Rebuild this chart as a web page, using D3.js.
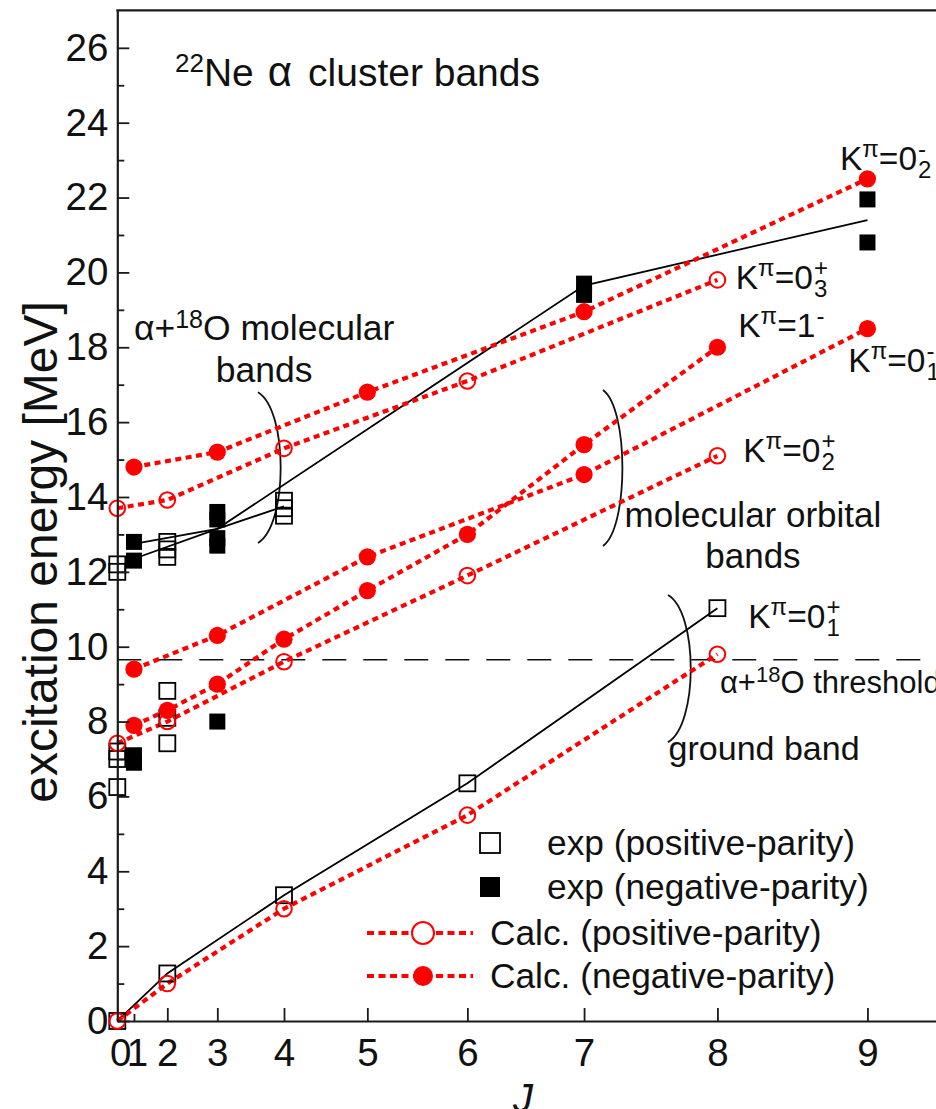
<!DOCTYPE html>
<html><head><meta charset="utf-8">
<script src="https://cdn.jsdelivr.net/npm/d3@7"></script>
<style>
html,body{margin:0;padding:0;background:#fff;}
svg{display:block;font-family:"Liberation Sans",Arial,sans-serif;}
</style></head>
<body><svg id="c" width="936" height="1109"></svg>
<script>
// ---------- data ----------
const jTicks = [0,1,2,3,4,5,6,7,8,9];
const jTickLabels = ["0","1","2","3","4","5","6","7","8","9"];
const yMajorTicks = [0,2,4,6,8,10,12,14,16,18,20,22,24,26];
const yMinorTicks = [1,3,5,7,9,11,13,15,17,19,21,23,25];

// experimental, positive parity (open squares) : [J, E]
const expPos = [[0,0],[0,6.25],[0,7.0],[0,7.2],[0,12.0],[0,12.2],
  [2,1.27],[2,7.42],[2,8.1],[2,8.82],[2,12.4],[2,12.6],[2,12.8],
  [4,3.36],[4,13.5],[4,13.7],[4,13.9],[6,6.35],[8,11.03]];
// experimental, negative parity (filled squares)
const expNeg = [[1,6.9],[1,7.1],[1,12.3],[1,12.8],
  [3,8.0],[3,12.7],[3,12.9],[3,13.4],[3,13.6],
  [7,19.4],[7,19.7],[9,20.8],[9,21.95]];
// experimental band lines (solid black)
const expGroundJ = [0,2,4,6,8], expGroundE = [0,1.27,3.36,6.35,11.03];
const expLineAJ = [1,3,7,9], expLineAE = [12.75,13.15,19.65,21.4];
const expLineBJ = [1,3,4], expLineBE = [12.35,13.15,13.75];

// calculated bands
const calcG_J  = [0,2,4,6,8],  calcG_E  = [0,1.0,3.0,5.5,9.8];          // K=0_1^+
const calc02p_J= [0,2,4,6,8],  calc02p_E= [7.42,8.0,9.6,11.9,15.1];     // K=0_2^+
const calc03p_J= [0,2,4,6,8],  calc03p_E= [13.7,13.92,15.3,17.1,19.8];  // K=0_3^+
const calc01m_J= [1,3,5,7,9],  calc01m_E= [9.4,10.3,12.4,14.6,18.5];    // K=0_1^-
const calc02m_J= [1,3,5,7,9],  calc02m_E= [14.8,15.2,16.8,18.95,22.5];  // K=0_2^-
const calc1m_J = [1,2,3,4,5,6,7,8], calc1m_E = [7.9,8.3,9.0,10.2,11.5,13.0,15.4,18.0]; // K=1^-

const threshold = 9.65;

// ---------- layout ----------
const W = 936, H = 1109;
const jj = J => J*(J+1);
const xs = d3.scaleLinear().domain([0,100]).range([117.3, 950.8]);
const ys = d3.scaleLinear().domain([0,27]).range([1021, 10.4]);
const X = J => xs(jj(J));
const RED = "#ff0000";

const svg = d3.select("#c");
svg.append("rect").attr("width",W).attr("height",H).attr("fill","#fff");

// threshold dashed line
svg.append("line").attr("x1",xs(0)).attr("x2",W).attr("y1",ys(threshold)).attr("y2",ys(threshold))
  .attr("stroke","#111").attr("stroke-width",1.6).attr("stroke-dasharray","24,17");

// brackets (annotation, in data units of J(J+1), E)
const brackets = [
  {x0:16.88, xm:19.6, e0:16.8, e1:12.77},
  {x0:58.27, xm:60.6, e0:16.86, e1:12.69},
  {x0:66.07, xm:68.8, e0:11.38, e1:7.45}
];
brackets.forEach(b=>{
  const x0 = xs(b.x0), xm = xs(b.xm), y0 = ys(b.e0), y1 = ys(b.e1);
  const xc = x0 + (xm-x0)/0.75, h = y1-y0;
  svg.append("path").attr("d",`M${x0},${y0} C${xc},${y0+0.12*h} ${xc},${y1-0.12*h} ${x0},${y1}`)
    .attr("fill","none").attr("stroke","#111").attr("stroke-width",1.8);
});

// black experimental lines
const lineGen = d3.line().x(d=>X(d[0])).y(d=>ys(d[1]));
const zip = (a,b)=>a.map((v,i)=>[v,b[i]]);
[[expGroundJ,expGroundE],[expLineAJ,expLineAE],[expLineBJ,expLineBE]].forEach(([a,b])=>{
  svg.append("path").attr("d",lineGen(zip(a,b))).attr("fill","none")
    .attr("stroke","#000").attr("stroke-width",1.8);
});

// red dotted calculated lines
const calcPos = [[calcG_J,calcG_E],[calc02p_J,calc02p_E],[calc03p_J,calc03p_E]];
const calcNeg = [[calc01m_J,calc01m_E],[calc02m_J,calc02m_E],[calc1m_J,calc1m_E]];
[...calcPos,...calcNeg].forEach(([a,b])=>{
  svg.append("path").attr("d",lineGen(zip(a,b))).attr("fill","none")
    .attr("stroke",RED).attr("stroke-width",4.2).attr("stroke-dasharray","6,4.5");
});

// squares
const SQ = 16;
svg.append("g").selectAll("rect").data(expPos).join("rect")
  .attr("x",d=>X(d[0])-SQ/2).attr("y",d=>ys(d[1])-SQ/2).attr("width",SQ).attr("height",SQ)
  .attr("fill","none").attr("stroke","#000").attr("stroke-width",1.8);
svg.append("g").selectAll("rect").data(expNeg).join("rect")
  .attr("x",d=>X(d[0])-SQ/2).attr("y",d=>ys(d[1])-SQ/2).attr("width",SQ).attr("height",SQ)
  .attr("fill","#000");

// circles
calcPos.forEach(([a,b])=>{
  svg.append("g").selectAll("circle").data(zip(a,b)).join("circle")
    .attr("cx",d=>X(d[0])).attr("cy",d=>ys(d[1])).attr("r",7.8)
    .attr("fill","none").attr("stroke",RED).attr("stroke-width",2);
});
calcNeg.forEach(([a,b])=>{
  svg.append("g").selectAll("circle").data(zip(a,b)).join("circle")
    .attr("cx",d=>X(d[0])).attr("cy",d=>ys(d[1])).attr("r",8.6).attr("fill",RED);
});

// ---------- axes ----------
const axColor = "#1a1a1a";
const gy = svg.append("g").attr("transform",`translate(${xs(0)},0)`)
  .call(d3.axisLeft(ys).tickValues(yMajorTicks).tickSize(-12).tickSizeOuter(0).tickPadding(9).tickFormat(d3.format("d")));
const gy2 = svg.append("g").attr("transform",`translate(${xs(0)},0)`)
  .call(d3.axisLeft(ys).tickValues(yMinorTicks).tickSize(-7).tickSizeOuter(0).tickFormat(""));
const gx = svg.append("g").attr("transform",`translate(0,${ys(0)})`)
  .call(d3.axisBottom(xs).tickValues(jTicks.map(jj)).tickSize(-13).tickSizeOuter(0).tickPadding(18)
    .tickFormat((d,i)=>jTickLabels[i]));
[gy,gy2,gx].forEach(g=>{
  g.select(".domain").attr("stroke",axColor).attr("stroke-width",2.2);
  g.selectAll(".tick line").attr("stroke",axColor).attr("stroke-width",1.8);
  g.selectAll(".tick text").attr("fill","#111").style("font-size","38.5px");
});
gy2.select(".domain").remove();
gx.selectAll(".tick").filter((d,i)=>i===1).select("line").attr("y2",-7);
gx.selectAll(".tick").filter((d,i)=>i===0).select("line").remove();
gx.selectAll(".tick").filter((d,i)=>i===0).select("text").attr("dx",3);
gx.selectAll(".tick").filter((d,i)=>i===1).select("text").attr("dx",3);
// top frame
svg.append("line").attr("x1",xs(0)-1).attr("x2",W).attr("y1",ys(27)).attr("y2",ys(27))
  .attr("stroke",axColor).attr("stroke-width",2.2);

// axis titles
svg.append("text").attr("transform",`translate(57,552) rotate(-90)`).attr("text-anchor","middle")
  .style("font-size","48px").attr("fill","#111").text("excitation energy [MeV]");
svg.append("text").attr("x",523).attr("y",1112).attr("text-anchor","middle")
  .style("font-size","40px").style("font-style","italic").attr("fill","#111").text("J");

// ---------- annotations ----------
function txt(x,y,size,anchor){ return svg.append("text").attr("x",x).attr("y",y)
  .attr("text-anchor",anchor||"start").style("font-size",size+"px").attr("fill","#111"); }

// title
const t = txt(xs(6.92), ys(24.98), 39);
t.append("tspan").text("22").style("font-size","26px").attr("dy","-14");
t.append("tspan").text("Ne").attr("dy","14");
t.append("tspan").text("\u03b1").attr("dx",14).style("font-size","42px");
t.append("tspan").text("cluster bands").attr("dx",16);

// alpha + 18O molecular bands
const a1 = txt(xs(17.62), ys(18.19), 35.5, "middle");
a1.append("tspan").text("\u03b1+");
a1.append("tspan").text("18").style("font-size","25px").attr("dy","-12");
a1.append("tspan").text("O molecular").attr("dy","12");
txt(xs(17.62), ys(17.07), 35.5, "middle").text("bands");

txt(xs(76.26), ys(13.2), 35, "middle").text("molecular orbital");
txt(xs(76.26), ys(12.1), 35, "middle").text("bands");
txt(xs(77.6), ys(6.97), 34, "middle").text("ground band");

const th = txt(xs(72.3), ys(8.76), 31);
th.append("tspan").text("\u03b1+");
th.append("tspan").text("18").style("font-size","22px").attr("dy","-11");
th.append("tspan").text("O threshold").attr("dy","11");

// K labels (sup and sub stacked in one text element)
const kLabels = [
  {x:86.7, e:22.74, main:"0", sup:"-", sub:"2"},
  {x:74.2, e:19.56, main:"0", sup:"+", sub:"3"},
  {x:74.5, e:18.27, main:"1", sup:"-", sub:""},
  {x:87.7, e:17.34, main:"0", sup:"-", sub:"1"},
  {x:75.1, e:14.93, main:"0", sup:"+", sub:"2"},
  {x:75.7, e:10.5,  main:"0", sup:"+", sub:"1"}
];
kLabels.forEach(k=>{
  const x0 = xs(k.x), y0 = ys(k.e);
  const tt = txt(x0, y0, 33.5);
  tt.append("tspan").text("K");
  tt.append("tspan").text("\u03c0").style("font-size","24px").attr("dy","-13");
  tt.append("tspan").text("="+k.main).attr("dy","13");
  const sp = tt.append("tspan").text(k.sup).style("font-size","24px").attr("dx",1).attr("dy","-13");
  if(k.sub){
    const sw = sp.node().getComputedTextLength();
    tt.append("tspan").text(k.sub).style("font-size","24px").attr("dx",-sw).attr("dy","21");
  }
});

// ---------- legend ----------
const LG = [
  {type:"sq", fill:false, y:843, label:"exp (positive-parity)"},
  {type:"sq", fill:true,  y:887, label:"exp (negative-parity)"},
  {type:"ci", fill:false, y:933, label:"Calc. (positive-parity)"},
  {type:"ci", fill:true,  y:976, label:"Calc. (negative-parity)"}
];
LG.forEach(l=>{
  if(l.type==="sq"){
    const s = 20;
    svg.append("rect").attr("x",490-s/2).attr("y",l.y-s/2).attr("width",s).attr("height",s)
      .attr("fill",l.fill?"#000":"none").attr("stroke","#000").attr("stroke-width",l.fill?0:1.8);
    txt(547, l.y+12, 35.3).text(l.label);
  } else {
    svg.append("line").attr("x1",367).attr("x2",473).attr("y1",l.y).attr("y2",l.y)
      .attr("stroke",RED).attr("stroke-width",4.2).attr("stroke-dasharray","7,4.5");
    svg.append("circle").attr("cx",423).attr("cy",l.y).attr("r",l.fill?10:11)
      .attr("fill",l.fill?RED:"#fff").attr("stroke",RED).attr("stroke-width",l.fill?0:2);
    txt(490, l.y+12, 35.3).text(l.label);
  }
});
</script></body></html>
